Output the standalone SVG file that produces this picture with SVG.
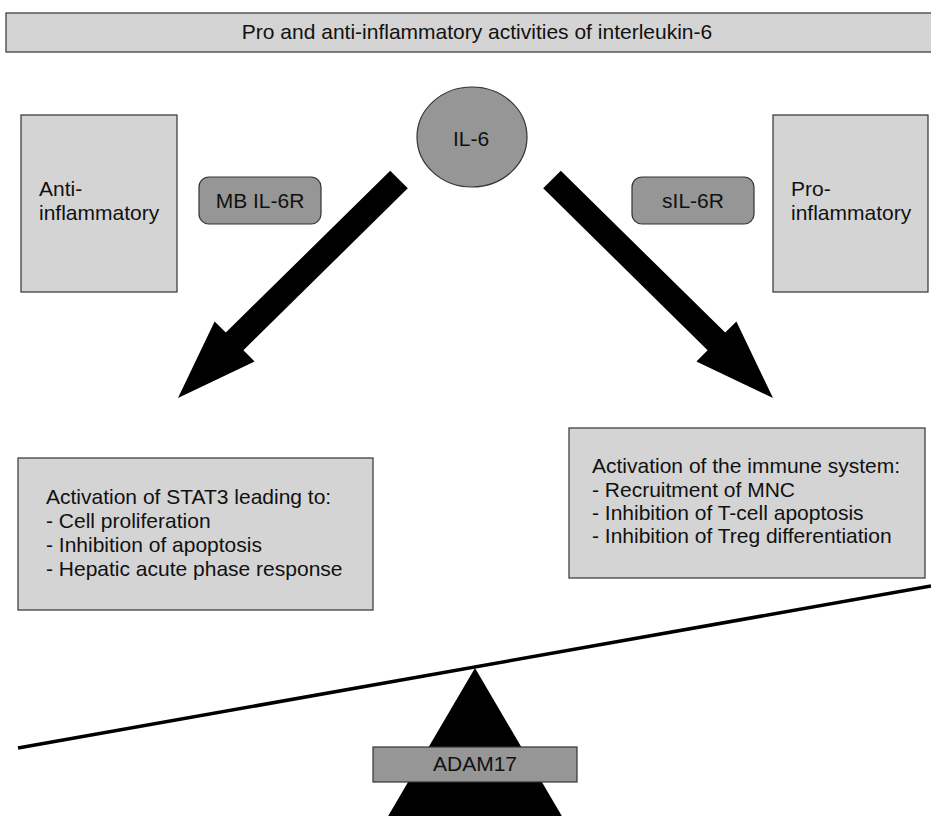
<svg xmlns="http://www.w3.org/2000/svg" width="931" height="816" viewBox="0 0 931 816">
<style>
.light{fill:#d4d4d4;stroke:#333;stroke-width:1.2}
.dark{fill:#969696;stroke:#333;stroke-width:1.2}
text{font-family:"Liberation Sans",Arial,sans-serif;fill:#111;font-size:21px}
.c{text-anchor:middle}
</style>
<rect width="931" height="816" fill="#fff"/>
<g id="title">
<rect class="light" x="6" y="13" width="930" height="39"/>
<text class="c" x="477" y="39">Pro and anti-inflammatory activities of interleukin-6</text>
</g>
<g id="anti">
<rect class="light" x="21" y="115" width="156" height="177"/>
<text x="39" y="196">Anti-</text>
<text x="39" y="220">inflammatory</text>
</g>
<g id="mbil6r">
<rect class="dark" x="199" y="177" width="122" height="47" rx="10"/>
<text class="c" x="260" y="208">MB IL-6R</text>
</g>
<g id="il6">
<ellipse class="dark" cx="472" cy="137" rx="55" ry="50"/>
<text class="c" x="471" y="146">IL-6</text>
</g>
<g id="sil6r">
<rect class="dark" x="632" y="177" width="122" height="47" rx="10"/>
<text class="c" x="693" y="208">sIL-6R</text>
</g>
<g id="pro">
<rect class="light" x="773" y="115" width="155" height="177"/>
<text x="791" y="196">Pro-</text>
<text x="791" y="220">inflammatory</text>
</g>
<g id="connectors">
<polygon fill="#000" points="390.2,170.7 225.8,332.6 214.6,321.4 178,398 254.6,361.4 243.4,350.2 407.8,188.3"/>
<polygon fill="#000" points="560.8,170.7 725.2,332.6 736.4,321.4 773,398 696.4,361.4 707.6,350.2 543.2,188.3"/>
</g>
<g id="stat3">
<rect class="light" x="18" y="458" width="355" height="152"/>
<text x="46" y="504">Activation of STAT3 leading to:</text>
<text x="46" y="528">- Cell proliferation</text>
<text x="46" y="552">- Inhibition of apoptosis</text>
<text x="46" y="576">- Hepatic acute phase response</text>
</g>
<g id="immune">
<rect class="light" x="569" y="428" width="356" height="150"/>
<text x="592" y="473">Activation of the immune system:</text>
<text x="592" y="497">- Recruitment of MNC</text>
<text x="592" y="520">- Inhibition of T-cell apoptosis</text>
<text x="592" y="543">- Inhibition of Treg differentiation</text>
</g>
<g id="seesaw">
<line x1="18" y1="748" x2="931" y2="586" stroke="#000" stroke-width="3.5"/>
<polygon fill="#000" points="475,668 387,818 563,818"/>
</g>
<g id="adam17">
<rect class="dark" x="373" y="747" width="204" height="35"/>
<text class="c" x="475" y="771">ADAM17</text>
</g>
</svg>
